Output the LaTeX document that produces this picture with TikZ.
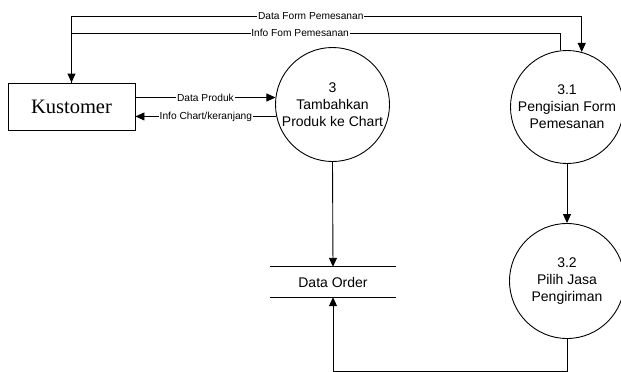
\documentclass[tikz,border=0pt]{standalone}
\usepackage{fontspec}
\setmainfont{Liberation Sans}
\newfontfamily\timesfont{Liberation Serif}
\usetikzlibrary{arrows.meta}

\tikzset{
  line/.style={draw=black, line width=0.9pt},
  flow/.style={line, -{Triangle[length=9pt,width=8pt]}},
  proc/.style={circle, draw=black, line width=0.9pt, inner sep=0pt, minimum size=114pt,
    align=center, font=\fontsize{14}{17}\selectfont},
  entity/.style={rectangle, draw=black, line width=0.9pt, minimum width=127pt, minimum height=47pt,
    inner sep=0pt, font=\timesfont\fontsize{20.5}{24}\selectfont},
  store/.style={rectangle, minimum width=126pt, minimum height=30pt, inner sep=0pt,
    font=\fontsize{14}{17}\selectfont},
  lbl/.style={fill=white, inner sep=0.8pt, font=\fontsize{10.2}{12}\selectfont}
}

\begin{document}
\begin{tikzpicture}[x=1pt, y=-1pt]
  % canvas
  \path[fill=white, use as bounding box] (0,0) rectangle (621,372);

  % nodes
  \node[entity] (kus) at (71.5,106.5) {Kustomer};
  \node[proc] (p3) at (332.5,104.5) {3\\Tambahkan\\Produk ke Chart};
  \node[proc, minimum size=113pt] (p31) at (567,107) {3.1\\Pengisian Form\\Pemesanan};
  \node[proc, minimum size=115pt] (p32) at (567,281) {3.2\\Pilih Jasa\\Pengiriman};
  \node[store] (do) at (333,282) {Data Order};
  \draw[line] (do.north west) -- (do.north east);
  \draw[line] (do.south west) -- (do.south east);

  % flows between Kustomer and process 3.1
  \draw[flow] (kus.north) -- (kus.north |- 0,16)
    -- node[lbl, pos=0.469] {Data Form Pemesanan} (p31.75 |- 0,16) -- (p31.75);
  \draw[flow] (p31.97) -- (p31.97 |- 0,33)
    -- node[lbl, pos=0.532] {Info Fom Pemesanan} (kus.north |- 0,33) -- (kus.north);

  % flows between Kustomer and process 3
  \draw[flow] (kus.east |- p3.173.5) -- node[lbl] {Data Produk} (p3.173.5);
  \draw[flow] (p3.192.7) -- node[lbl] {Info Chart/keranjang} (kus.east |- p3.192.7);

  % flows into the data store and between sub-processes
  \draw[flow] (p3.south) -- (do.north);
  \draw[flow] (p31.south) -- (p32.north);
  \draw[flow] (p32.south) -- (p32.south |- 0,371) -- (do.south |- 0,371) -- (do.south);
\end{tikzpicture}
\end{document}
